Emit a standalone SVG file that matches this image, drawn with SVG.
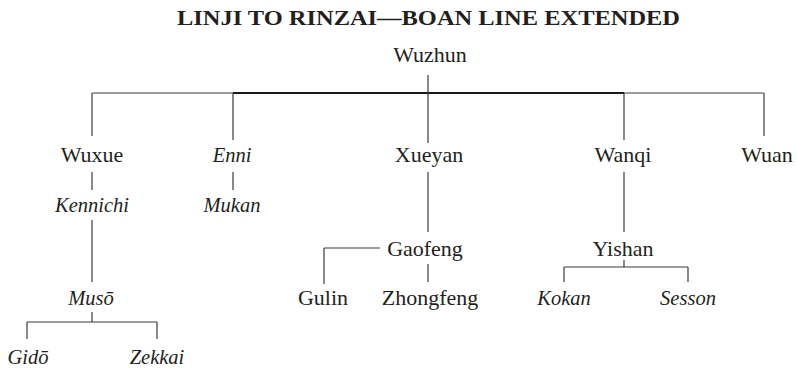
<svg xmlns="http://www.w3.org/2000/svg" width="797" height="373" viewBox="0 0 797 373">
<style>
text{font-family:'Liberation Serif','Times New Roman',serif;font-size:22px;fill:#231f20;text-anchor:middle}
.i{font-style:italic;font-size:20.5px}
.t{font-weight:bold;font-size:22px}
.c line{stroke:#3a3a3a;stroke-width:1.2;fill:none}
.c .b{stroke:#1a1a1a;stroke-width:2}
</style>
<rect width="797" height="373" fill="#fff"/>
<text class="t" x="428.5" y="25" textLength="503" lengthAdjust="spacingAndGlyphs">LINJI TO RINZAI—BOAN LINE EXTENDED</text>
<g class="c" id="connectors">
<line x1="92" y1="93" x2="233" y2="93"/>
<line class="b" x1="233" y1="93" x2="624" y2="93"/>
<line x1="624" y1="93" x2="764" y2="93"/>
<line x1="428" y1="75" x2="428" y2="143"/>
<line x1="92" y1="93" x2="92" y2="136"/>
<line x1="233" y1="93" x2="233" y2="140"/>
<line x1="624" y1="93" x2="624" y2="140"/>
<line x1="764" y1="93" x2="764" y2="136"/>
<line x1="92" y1="172" x2="92" y2="190"/>
<line x1="233" y1="172" x2="233" y2="190"/>
<line x1="92" y1="220" x2="92" y2="282"/>
<line x1="92" y1="312" x2="92" y2="322"/>
<line x1="27" y1="322" x2="157" y2="322"/>
<line x1="27" y1="322" x2="27" y2="339"/>
<line x1="157" y1="322" x2="157" y2="339"/>
<line x1="428" y1="172" x2="428" y2="232"/>
<line x1="324" y1="248" x2="380" y2="248"/>
<line x1="324" y1="248" x2="324" y2="284"/>
<line x1="428" y1="264" x2="428" y2="282"/>
<line x1="624" y1="172" x2="624" y2="232"/>
<line x1="624" y1="260" x2="624" y2="267"/>
<line x1="564" y1="267" x2="688" y2="267"/>
<line x1="564" y1="267" x2="564" y2="282"/>
<line x1="688" y1="267" x2="688" y2="282"/>
</g>
<g id="wuzhun"><text x="430" y="62">Wuzhun</text></g>
<g id="wuxue"><text x="92" y="162">Wuxue</text></g>
<g id="enni"><text class="i" x="232" y="162">Enni</text></g>
<g id="xueyan"><text x="429" y="162">Xueyan</text></g>
<g id="wanqi"><text x="623" y="162">Wanqi</text></g>
<g id="wuan"><text x="767" y="162">Wuan</text></g>
<g id="kennichi"><text class="i" x="92" y="212">Kennichi</text></g>
<g id="mukan"><text class="i" x="232" y="212">Mukan</text></g>
<g id="gaofeng"><text x="425" y="256">Gaofeng</text></g>
<g id="yishan"><text x="623" y="256">Yishan</text></g>
<g id="muso"><text class="i" x="91" y="305">Musō</text></g>
<g id="gulin"><text x="323" y="305">Gulin</text></g>
<g id="zhongfeng"><text x="430" y="305">Zhongfeng</text></g>
<g id="kokan"><text class="i" x="564" y="305">Kokan</text></g>
<g id="sesson"><text class="i" x="688" y="305">Sesson</text></g>
<g id="gido"><text class="i" x="28" y="364">Gidō</text></g>
<g id="zekkai"><text class="i" x="157" y="364">Zekkai</text></g>
</svg>
